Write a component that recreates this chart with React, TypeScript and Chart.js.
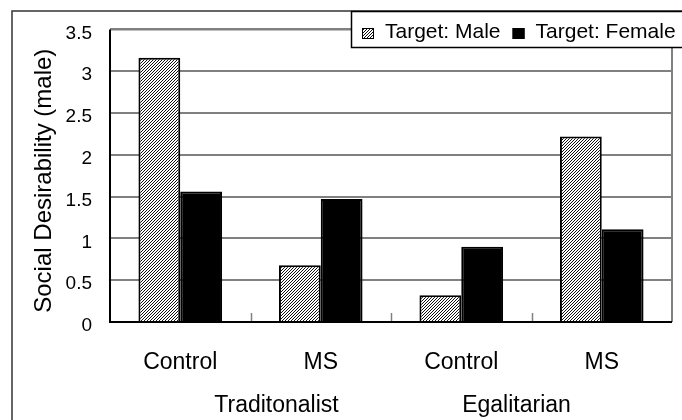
import React, { useEffect, useRef } from "react";
import { Chart, registerables } from "chart.js";
Chart.register(...registerables);

const categories = ["Control", "MS", "Control", "MS"];
const groups = ["Traditonalist", "Egalitarian"];
const seriesLabels = ["Target: Male", "Target: Female"];
const maleValues = [3.16, 0.68, 0.32, 2.22];
const femaleValues = [1.56, 1.47, 0.9, 1.11];
const yTicks = [0, 0.5, 1, 1.5, 2, 2.5, 3, 3.5];
const yTitle = "Social Desirability (male)";

const FONT = "'Liberation Sans', Arial, sans-serif";

function makeHatch(): CanvasPattern | string {
  const c = document.createElement("canvas");
  c.width = 3;
  c.height = 3;
  const g = c.getContext("2d");
  if (!g) return "#999";
  g.fillStyle = "#ffffff";
  g.fillRect(0, 0, 3, 3);
  g.fillStyle = "#111111";
  for (let i = 0; i < 3; i++) g.fillRect(i, 2 - i, 1, 1);
  const p = g.createPattern(c, "repeat");
  return p || "#999";
}

export default function App() {
  const ref = useRef<HTMLCanvasElement | null>(null);
  useEffect(() => {
    if (!ref.current) return;
    const hatch = makeHatch();
    const decor = {
      id: "decor",
      beforeDraw(chart: any) {
        const ctx = chart.ctx;
        ctx.save();
        ctx.fillStyle = "#fff";
        ctx.fillRect(0, 0, chart.width, chart.height);
        ctx.strokeStyle = "#333";
        ctx.lineWidth = 1.5;
        ctx.strokeRect(12, 11, chart.width + 20, chart.height + 20);
        ctx.restore();
      },
      afterDraw(chart: any) {
        const ctx = chart.ctx;
        const a = chart.chartArea;
        const xs = chart.scales.x;
        ctx.save();
        // top & right borders (gray)
        ctx.strokeStyle = "#808080";
        ctx.lineWidth = 2;
        ctx.beginPath();
        ctx.moveTo(a.left, a.top);
        ctx.lineTo(a.right, a.top);
        ctx.lineTo(a.right, a.bottom);
        ctx.stroke();
        // category tick marks
        ctx.lineWidth = 1.5;
        for (let i = 1; i < categories.length; i++) {
          const x = Math.round((xs.getPixelForValue(i - 1) + xs.getPixelForValue(i)) / 2) + 0.5;
          ctx.beginPath();
          ctx.moveTo(x, a.bottom);
          ctx.lineTo(x, a.bottom - 9);
          ctx.stroke();
        }
        // left & bottom axes (black)
        ctx.strokeStyle = "#000";
        ctx.lineWidth = 2;
        ctx.beginPath();
        ctx.moveTo(a.left, a.top);
        ctx.lineTo(a.left, a.bottom);
        ctx.lineTo(a.right, a.bottom);
        ctx.stroke();
        // group labels
        ctx.fillStyle = "#000";
        ctx.font = `23px ${FONT}`;
        ctx.textAlign = "center";
        ctx.textBaseline = "middle";
        const groupShift = [26, -15];
        groups.forEach((g, gi) => {
          const x = (xs.getPixelForValue(gi * 2) + xs.getPixelForValue(gi * 2 + 1)) / 2 + groupShift[gi];
          ctx.fillText(g, x, 406);
        });
        // y title
        ctx.save();
        ctx.font = `24px ${FONT}`;
        ctx.translate(44, (a.top + a.bottom) / 2 + 5);
        ctx.rotate(-Math.PI / 2);
        ctx.fillText(yTitle, 0, 0);
        ctx.restore();
        // legend
        const lx = 351, ly = 11, lh = 36;
        ctx.fillStyle = "#fff";
        ctx.fillRect(lx, ly, chart.width, lh);
        ctx.strokeStyle = "#000";
        ctx.lineWidth = 1.5;
        ctx.strokeRect(lx + 0.5, ly + 0.5, chart.width, lh);
        ctx.font = `21px ${FONT}`;
        ctx.textAlign = "left";
        let x = lx + 11;
        const fills = [hatch, "#000"];
        seriesLabels.forEach((s, i) => {
          ctx.fillStyle = fills[i];
          ctx.fillRect(x, 28, 12, 11);
          ctx.strokeStyle = "#000";
          ctx.lineWidth = 1;
          ctx.strokeRect(x + 0.5, 28.5, 11, 10);
          x += 23;
          ctx.fillStyle = "#000";
          ctx.fillText(s, x, 32);
          x += ctx.measureText(s).width + 12;
        });
        ctx.restore();
      },
    };
    const chart = new Chart(ref.current, {
      type: "bar",
      data: {
        labels: categories,
        datasets: [
          {
            label: seriesLabels[0],
            data: maleValues,
            backgroundColor: hatch as any,
            borderColor: "#000",
            borderWidth: 2,
          },
          {
            label: seriesLabels[1],
            data: femaleValues,
            backgroundColor: "#000",
            borderColor: "#000",
            borderWidth: 2,
          },
        ],
      },
      options: {
        animation: false,
        responsive: false,
        maintainAspectRatio: false,
        layout: { padding: { top: 27, right: 10, left: 0, bottom: 0 } },
        datasets: { bar: { categoryPercentage: 0.595, barPercentage: 1.0 } },
        plugins: { legend: { display: false }, tooltip: { enabled: false } },
        scales: {
          x: {
            type: "category",
            offset: true,
            grid: { display: false },
            border: { display: false },
            ticks: { color: "#000", font: { family: FONT, size: 23 }, padding: 19 },
            afterFit: (s: any) => { s.height = 98; },
          },
          y: {
            min: 0,
            max: 3.5,
            afterBuildTicks: (s: any) => { s.ticks = yTicks.map((v) => ({ value: v })); },
            grid: { color: "#808080", lineWidth: 2, drawTicks: false },
            border: { display: false },
            ticks: {
              color: "#000",
              font: { family: FONT, size: 19 },
              padding: 18,
              labelOffset: 4,
              callback: (v: any) => String(v),
            },
            afterFit: (s: any) => { s.width = 110; },
          },
        },
      },
      plugins: [decor],
    });
    return () => chart.destroy();
  }, []);
  return (
    <div style={{ position: "absolute", left: 0, top: 0, width: 682, height: 420 }}>
      <canvas ref={ref} width={682} height={420} style={{ display: "block" }} />
    </div>
  );
}
